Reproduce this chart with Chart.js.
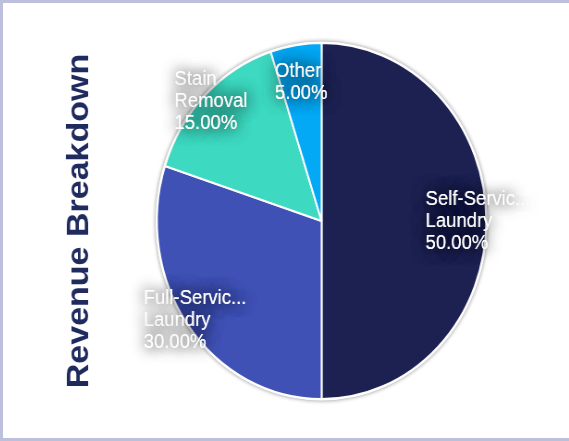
<!DOCTYPE html>
<html>
<head>
<meta charset="utf-8">
<script src="https://cdn.jsdelivr.net/npm/chart.js@4"></script>
<style>
  html, body { margin: 0; padding: 0; overflow: hidden; background: #fff; }
  #wrap {
    box-sizing: border-box;
    width: 580px;
    height: 441px;
    border: 3px solid #bcc0dc;
    background: #fff;
    overflow: hidden;
  }
  /* the reference is squeezed horizontally */
  #box {
    position: relative;
    width: 612px;
    height: 435px;
    transform: scaleX(0.925);
    transform-origin: 0 0;
  }
</style>
</head>
<body>
<div id="wrap"><div id="box"><canvas id="revenue"></canvas></div></div>
<script>
var categories = ['Self-Service Laundry', 'Full-Service Laundry', 'Stain Removal', 'Other'];
var revenueShare = [50, 30, 15, 5];
var sliceColors = ['#1c2151', '#3f51b5', '#3dd9c1', '#03a9f4'];

// white disc with a soft shadow behind the pie
var pieShadow = {
  id: 'pieShadow',
  beforeDatasetsDraw: function (chart) {
    var arc = chart.getDatasetMeta(0).data[0];
    if (!arc) return;
    var ctx = chart.ctx;
    ctx.save();
    ctx.shadowColor = 'rgba(0,0,0,0.45)';
    ctx.shadowBlur = 4;
    ctx.fillStyle = '#fff';
    ctx.beginPath();
    ctx.arc(arc.x, arc.y, arc.outerRadius + 1.5, 0, Math.PI * 2);
    ctx.fill();
    ctx.restore();
  }
};

function shortWord(w) {
  return w.length > 11 ? w.slice(0, 11) + '...' : w;
}

var sliceLabels = {
  id: 'sliceLabels',
  afterDatasetsDraw: function (chart) {
    var ctx = chart.ctx;
    var values = chart.data.datasets[0].data;
    var total = values.reduce(function (a, b) { return a + b; }, 0);
    ctx.save();
    ctx.font = '20px "Liberation Sans", Arial, sans-serif';
    ctx.textAlign = 'left';
    ctx.textBaseline = 'middle';
    chart.getDatasetMeta(0).data.forEach(function (arc, i) {
      var lines = chart.data.labels[i].split(' ').map(shortWord);
      lines.push((values[i] / total * 100).toFixed(2) + '%');
      var mid = (arc.startAngle + arc.endAngle) / 2;
      var span = arc.endAngle - arc.startAngle;
      // narrow slices get their label pulled further in
      var r = arc.outerRadius * (span > 0.5 ? 0.95 : 0.79);
      var cx = arc.x + Math.cos(mid) * r;
      var cy = arc.y + Math.sin(mid) * r;
      var maxW = 0;
      lines.forEach(function (l) { maxW = Math.max(maxW, ctx.measureText(l).width); });
      var lh = 22;
      var top = cy - (lines.length - 1) * lh / 2;
      for (var pass = 0; pass < 2; pass++) {
        ctx.shadowColor = 'rgba(0,0,0,0.7)';
        ctx.shadowBlur = 16;
        ctx.fillStyle = '#fff';
        lines.forEach(function (l, k) {
          ctx.fillText(l, cx - maxW / 2, top + k * lh);
        });
      }
    });
    ctx.restore();
  }
};

new Chart(document.getElementById('revenue').getContext('2d'), {
  type: 'pie',
  data: {
    labels: categories,
    datasets: [{
      data: revenueShare,
      backgroundColor: sliceColors,
      borderColor: '#ffffff',
      borderWidth: 2
    }]
  },
  options: {
    responsive: true,
    maintainAspectRatio: false,
    animation: false,
    layout: {
      padding: { left: 40, right: 36, top: 39, bottom: 38 }
    },
    plugins: {
      legend: { display: false },
      tooltip: { enabled: false },
      title: {
        display: true,
        position: 'left',
        text: 'Revenue Breakdown',
        color: '#1f2a5e',
        font: { size: 34, weight: 'bold', family: '"Liberation Sans", Arial, sans-serif' },
        padding: { top: 22, bottom: 10 }
      }
    }
  },
  plugins: [pieShadow, sliceLabels]
});
</script>
</body>
</html>
